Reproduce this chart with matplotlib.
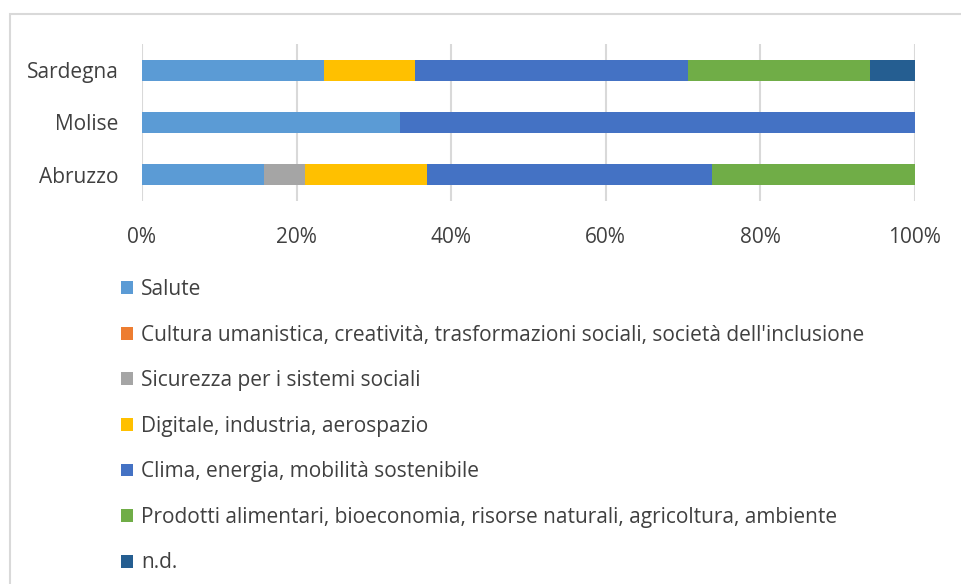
import matplotlib.pyplot as plt
from matplotlib.patches import Rectangle, Patch
import numpy as np

plt.rcParams['font.family'] = ['Open Sans', 'DejaVu Sans']

regions = ['Abruzzo', 'Molise', 'Sardegna']
areas = [
    'Salute',
    "Cultura umanistica, creatività, trasformazioni sociali, società dell'inclusione",
    'Sicurezza per i sistemi sociali',
    'Digitale, industria, aerospazio',
    'Clima, energia, mobilità sostenibile',
    'Prodotti alimentari, bioeconomia, risorse naturali, agricoltura, ambiente',
    'n.d.',
]
# number of projects per area, one list per region (Abruzzo, Molise, Sardegna)
salute = [3, 1, 4]
cultura = [0, 0, 0]
sicurezza = [1, 0, 0]
digitale = [3, 0, 2]
clima = [7, 2, 6]
prodotti = [5, 0, 4]
nd = [0, 0, 1]
colors = ['#5B9BD5', '#ED7D31', '#A5A5A5', '#FFC000', '#4472C4', '#70AD47', '#255E91']

counts = np.array([salute, cultura, sicurezza, digitale, clima, prodotti, nd], dtype=float)
shares = counts / counts.sum(axis=0) * 100

fig = plt.figure(figsize=(9.62, 5.84), dpi=100)
ax = fig.add_axes([142 / 962, 1 - 201 / 584, 773 / 962, 157 / 584])

y = np.arange(len(regions))
left = np.zeros(len(regions))
for share, color, name in zip(shares, colors, areas):
    ax.barh(y, share, left=left, height=0.4, color=color, label=name, zorder=3)
    left += share

ax.set_xlim(0, 100)
ax.set_ylim(-0.5, 2.5)
ax.set_xticks(np.arange(0, 101, 20))
ax.set_xticklabels([f'{v}%' for v in range(0, 101, 20)])
ax.set_yticks(y)
ax.set_yticklabels(regions)
ax.tick_params(length=0, labelsize=15, colors='#404040')
ax.tick_params(axis='x', pad=19)
ax.tick_params(axis='y', pad=17)
ax.grid(axis='x', color='#D9D9D9', linewidth=1.5, zorder=0)
for s in ax.spines.values():
    s.set_visible(False)

handles = [Patch(facecolor=c, edgecolor='none') for c in colors]
fig.legend(handles, areas, loc='upper left', bbox_to_anchor=(121 / 962, 1 - 279 / 584),
           frameon=False, fontsize=15, labelcolor='#404040',
           borderpad=0, borderaxespad=0,
           handlelength=0.58, handleheight=0.58, handletextpad=0.38,
           labelspacing=1.18)

# outer chart border
fig.patches.append(Rectangle((10 / 962, -0.05), 1.2, 1 - 14 / 584 + 0.05,
                             transform=fig.transFigure, fill=False,
                             edgecolor='#D9D9D9', linewidth=1.5))

fig.savefig('out.png', dpi=100)
